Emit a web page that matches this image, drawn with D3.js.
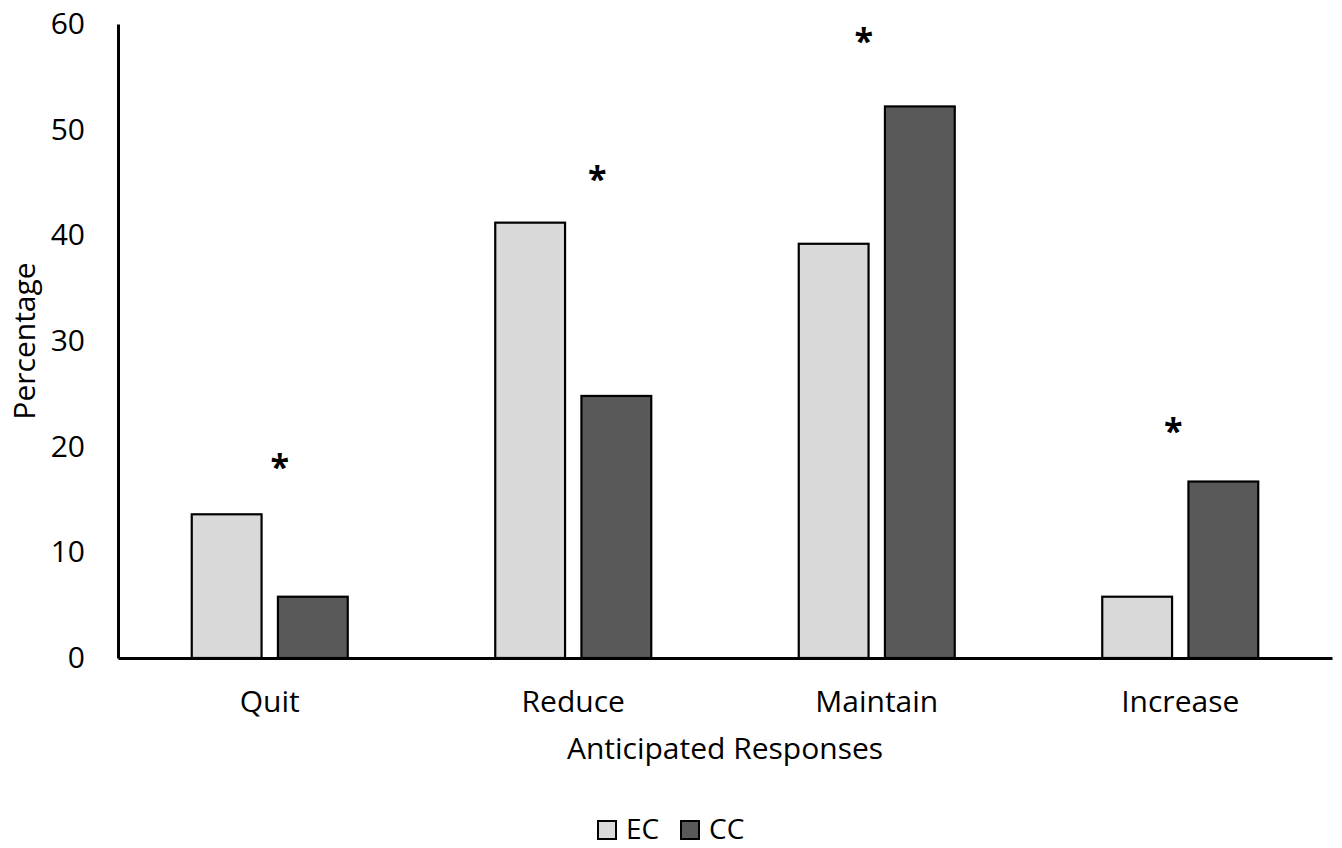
<!DOCTYPE html>
<html>
<head>
<meta charset="utf-8">
<script src="https://cdn.jsdelivr.net/npm/d3@7"></script>
<style>
    body { margin: 0; background: #fff; }
    .chart text { font-family: "Open Sans", sans-serif; fill: #000; }
</style>
</head>
<body>
<div class="chart"></div>
<script>
const categories = ['Quit', 'Reduce', 'Maintain', 'Increase'];
const seriesNames = ['EC', 'CC'];
const ecValues = [13.6, 41.2, 39.2, 5.8];
const ccValues = [5.8, 24.8, 52.2, 16.7];
const yTicks = [0, 10, 20, 30, 40, 50, 60];
// significance markers: height in percent units, and a nudge from group center
const starLevels = [18.5, 45.7, 58.8, 21.9];
const starNudge = [10, 24, -13, -7];

const colors = {EC: '#d9d9d9', CC: '#595959'};

const dimensions = {
    width: 1342,
    height: 848,
    margin: {left: 118, right: 10, top: 24, bottom: 190}
};

const svg = d3.select('.chart')
    .append('svg')
    .attr('width', dimensions.width)
    .attr('height', dimensions.height);

const x = d3.scaleBand()
    .domain(categories)
    .range([dimensions.margin.left, dimensions.width - dimensions.margin.right])
    .padding(0);

const xInner = d3.scaleBand()
    .domain(seriesNames)
    .range([-78, 78])
    .paddingInner(0.19)
    .paddingOuter(0);

const y = d3.scaleLinear()
    .domain([0, 60])
    .range([dimensions.height - dimensions.margin.bottom, dimensions.margin.top]);

const rows = categories.map((c, i) => ({cat: c, EC: ecValues[i], CC: ccValues[i]}));

// bars
const groups = svg.append('g')
    .selectAll('g')
    .data(rows)
    .join('g')
    .attr('transform', d => `translate(${x(d.cat) + x.bandwidth() / 2},0)`);

groups.selectAll('rect')
    .data(d => seriesNames.map(s => ({key: s, value: d[s]})))
    .join('rect')
    .attr('x', d => xInner(d.key))
    .attr('width', xInner.bandwidth())
    .attr('y', d => y(d.value))
    .attr('height', d => y(0) - y(d.value))
    .attr('fill', d => colors[d.key])
    .attr('stroke', '#000')
    .attr('stroke-width', 2.2);

// asterisks
svg.append('g')
    .selectAll('text')
    .data(categories)
    .join('text')
    .attr('x', (d, i) => x(d) + x.bandwidth() / 2 + starNudge[i])
    .attr('y', (d, i) => y(starLevels[i]))
    .attr('dy', '0.48em')
    .attr('text-anchor', 'middle')
    .style('font-size', '34px')
    .style('font-weight', 'bold')
    .text('*');

// y axis
svg.append('g')
    .attr('transform', `translate(${dimensions.margin.left},0)`)
    .call(d3.axisLeft(y).tickValues(yTicks).tickSize(0).tickPadding(33))
    .call(g => g.select('.domain').attr('stroke', '#000').attr('stroke-width', 3))
    .call(g => g.selectAll('.tick text')
        .style('font-family', '"Open Sans", sans-serif')
        .style('font-size', '30px'));

// x axis
svg.append('g')
    .attr('transform', `translate(0,${y(0)})`)
    .call(d3.axisBottom(x).tickSize(0).tickPadding(33))
    .call(g => g.select('.domain').attr('stroke', '#000').attr('stroke-width', 3))
    .call(g => g.selectAll('.tick text')
        .style('font-family', '"Open Sans", sans-serif')
        .style('font-size', '30px'));

// axis titles
svg.append('text')
    .attr('x', (dimensions.margin.left + dimensions.width - dimensions.margin.right) / 2)
    .attr('y', 759)
    .attr('text-anchor', 'middle')
    .style('font-size', '30px')
    .text('Anticipated Responses');

svg.append('text')
    .attr('transform', `translate(35,${(y(0) + y(60)) / 2}) rotate(-90)`)
    .attr('text-anchor', 'middle')
    .style('font-size', '30px')
    .text('Percentage');

// legend
const legend = svg.append('g')
    .attr('transform', 'translate(598,821)')
    .selectAll('g')
    .data(seriesNames)
    .join('g')
    .attr('transform', (d, i) => `translate(${i * 83},0)`);

legend.append('rect')
    .attr('width', 18)
    .attr('height', 18)
    .attr('fill', d => colors[d])
    .attr('stroke', '#000')
    .attr('stroke-width', 2);

legend.append('text')
    .attr('x', 28)
    .attr('y', 18)
    .style('font-size', '28px')
    .text(d => d);
</script>
</body>
</html>
